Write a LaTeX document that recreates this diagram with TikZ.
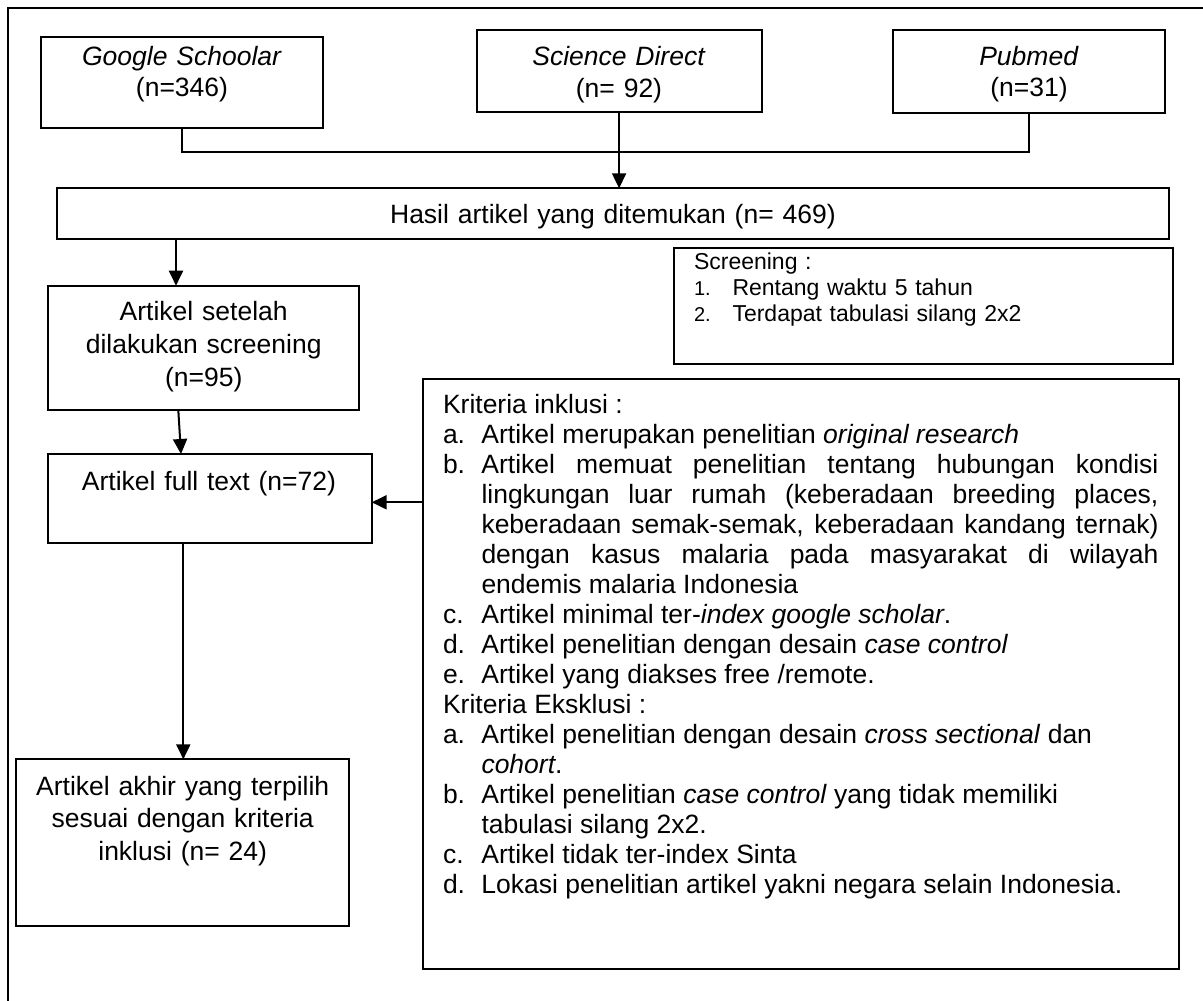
\documentclass[tikz,border=0pt]{standalone}
\usepackage{fontspec}
\setmainfont{Liberation Sans}
\usetikzlibrary{arrows.meta,calc}
\newcommand{\kitem}[2]{\par\hangindent=38.5pt\hangafter=1\noindent\makebox[38.5pt][l]{#1}#2}
\newcommand{\sitem}[2]{\par\hangindent=38.5pt\hangafter=1\noindent\makebox[38.5pt][l]{\fontsize{20}{26}\selectfont #1}#2}
\hyphenpenalty=10000
\exhyphenpenalty=10000
\begin{document}
\begin{tikzpicture}[x=1pt,y=-1pt,
  box/.style={draw,line width=2pt,inner sep=0pt,outer sep=0pt,anchor=north west},
  lbl/.style={anchor=base,inner sep=0pt,outer sep=0pt,align=center,text width=330pt},
  arr/.style={line width=2pt,-{Triangle[length=15pt,width=14pt]}},
  cn/.style={line width=2pt}]
\useasboundingbox (0,0) rectangle (1203,1001);
\fill[white] (0,0) rectangle (1203,1001);
% outer frame
\coordinate (ftr) at (1203,7.5);
\coordinate (ftl) at (7.5,7.5);
\coordinate (fbl) at (7.5,1001);
\draw[cn] (ftr) -- (ftl) -- (fbl);
% boxes
\node[box,minimum width=281.3pt,minimum height=91pt] (gs) at (41.3,36.7) {};
\node[box,minimum width=285.2pt,minimum height=82pt] (sd) at (476.5,30) {};
\node[box,minimum width=272pt,minimum height=82.7pt] (pm) at (893,30) {};
\node[box,minimum width=1112.7pt,minimum height=50.7pt] (hasil) at (56.6,188.3) {};
\node[box,minimum width=498.2pt,minimum height=116pt] (scr) at (674.3,248) {};
\node[box,minimum width=310.7pt,minimum height=124.3pt] (setelah) at (48.3,285.7) {};
\node[box,minimum width=323.4pt,minimum height=88.7pt] (ft) at (48.3,454) {};
\node[box,minimum width=756.5pt,minimum height=590.3pt] (krit) at (422.5,379) {};
\node[box,minimum width=333.3pt,minimum height=166.7pt] (akhir) at (16,759.3) {};
% texts
\node[lbl,font=\fontsize{26.5}{31}\selectfont] (tgs) at (182,65) {\textit{Google Schoolar}\\(n=346)};
\node[lbl,font=\fontsize{26.5}{32}\selectfont] (tsd) at (619,65) {\textit{Science Direct}\\(n= 92)};
\node[lbl,font=\fontsize{26.5}{31}\selectfont] (tpm) at (1029,65) {\textit{Pubmed}\\(n=31)};
\node[lbl,text width=1000pt,font=\fontsize{26.5}{30}\selectfont] (thasil) at (612.9,223) {Hasil artikel yang ditemukan (n= 469)};
\node[lbl,font=\fontsize{26.5}{33}\selectfont] (tsetelah) at (203.7,320.7) {Artikel setelah\\dilakukan screening\\(n=95)};
\node[lbl,font=\fontsize{26.5}{30}\selectfont] (tft) at (209,490) {Artikel full text (n=72)};
\node[lbl,font=\fontsize{26.5}{32.5}\selectfont] (takhir) at (182.7,795) {Artikel akhir yang terpilih\\sesuai dengan kriteria\\inklusi (n= 24)};
\node[anchor=base west,inner sep=0pt,outer sep=0pt,text width=470pt,align=left,font=\fontsize{23}{26}\selectfont] (tscr) at (694,269) {Screening :%
\sitem{1.}{Rentang waktu 5 tahun}%
\sitem{2.}{Terdapat tabulasi silang 2x2}};
\node[anchor=base west,inner sep=0pt,outer sep=0pt,text width=715.5pt,align=justify,font=\fontsize{26.5}{30}\selectfont] (tkrit) at (443,413) {\tolerance=10000\hyphenpenalty=10000\exhyphenpenalty=10000
Kriteria inklusi :%
\kitem{a.}{Artikel merupakan penelitian \textit{original research}}%
\kitem{b.}{Artikel memuat penelitian tentang hubungan kondisi\linebreak lingkungan luar rumah (keberadaan breeding places,\linebreak keberadaan semak-semak, keberadaan kandang ternak)\linebreak dengan kasus malaria pada masyarakat di wilayah\linebreak endemis malaria Indonesia}%
\kitem{c.}{Artikel minimal ter-\textit{index google scholar}.}%
\kitem{d.}{Artikel penelitian dengan desain \textit{case control}}%
\kitem{e.}{Artikel yang diakses free /remote.}%
\par\noindent Kriteria Eksklusi :%
\kitem{a.}{Artikel penelitian dengan desain \textit{cross sectional} dan\\\textit{cohort}.}%
\kitem{b.}{Artikel penelitian \textit{case control} yang tidak memiliki\\tabulasi silang 2x2.}%
\kitem{c.}{Artikel tidak ter-index Sinta}%
\kitem{d.}{Lokasi penelitian artikel yakni negara selain Indonesia.}};
% connector helpers
\coordinate (jn) at (620,151.5);
\coordinate (a1) at (176,0);
\coordinate (b1) at (178.3,0);
\coordinate (b2) at (181,0);
\coordinate (c1) at (183.3,0);
\coordinate (d1) at (0,502.3);
% connectors
\draw[cn] (gs.south) |- (jn) -| (pm.south);
\draw[arr] (sd.south) -- (sd.south |- hasil.north);
\draw[arr] (hasil.south -| a1) -- (setelah.north -| a1);
\draw[arr] (setelah.south -| b1) -- (ft.north -| b2);
\draw[arr] (ft.south -| c1) -- (akhir.north -| c1);
\draw[arr] (krit.west |- d1) -- (ft.east |- d1);
\end{tikzpicture}
\end{document}
